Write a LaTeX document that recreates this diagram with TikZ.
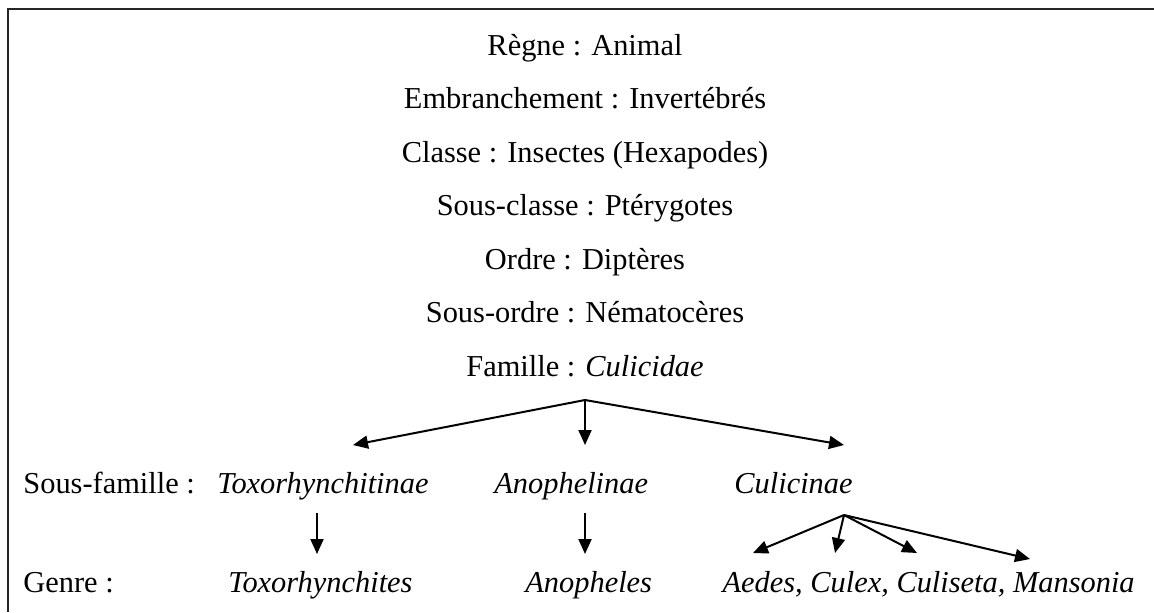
\documentclass[tikz,border=0pt]{standalone}
\usepackage{fontspec}
\setmainfont{Liberation Serif}
\usetikzlibrary{arrows.meta}
\begin{document}
\begin{tikzpicture}[x=0.5pt,y=-0.5pt,
  lbl/.style={anchor=base, inner sep=0pt, font=\fontsize{15.2pt}{18pt}\selectfont},
  lblw/.style={lbl, anchor=base west},
  arr/.style={line width=1pt, -{Triangle[length=7.5pt,width=6.5pt]}},
  frame/.style={line width=1pt, black!85}
]
\useasboundingbox (0,0) rectangle (1154,612);
\draw[frame] (8,612) -- (8,9) -- (1154,9);

\node[lbl] (regne) at (585,55) {Règne : Animal};
\node[lbl] (embr) at (585,108.5) {Embranchement : Invertébrés};
\node[lbl] (classe) at (585,162) {Classe : Insectes (Hexapodes)};
\node[lbl] (sclasse) at (585,215.5) {Sous-classe : Ptérygotes};
\node[lbl] (ordre) at (585,269) {Ordre : Diptères};
\node[lbl] (sordre) at (585,322.5) {Sous-ordre : Nématocères};
\node[lbl] (famille) at (585,376) {Famille : \textit{Culicidae}};

\node[lblw] (sfl) at (23,493) {Sous-famille :};
\node[lblw] (toxo) at (217,493) {\textit{Toxorhynchitinae}};
\node[lblw] (anoph) at (494,493) {\textit{Anophelinae}};
\node[lblw] (culi) at (734,493) {\textit{Culicinae}};

\node[lblw] (genre) at (23,592) {Genre :};
\node[lblw] (toxog) at (228,592) {\textit{Toxorhynchites}};
\node[lblw] (anophg) at (525,592) {\textit{Anopheles}};
\node[lbl, anchor=base east] (aedes) at (1135,592) {\textit{Aedes, Culex, Culiseta, Mansonia}};

% connector ends
\coordinate (fa) at (585,400);
\coordinate (t1) at (353,445);
\coordinate (t2) at (585,445);
\coordinate (t3) at (844,445);
\coordinate (ta) at (317,513);
\coordinate (tb) at (317,554);
\coordinate (aa) at (585,513);
\coordinate (ab) at (585,554);
\coordinate (ca) at (844,515);
\coordinate (c1) at (753,553);
\coordinate (c2) at (835,553);
\coordinate (c3) at (917,553);
\coordinate (c4) at (1030,559);

\draw[arr] (fa) -- (t1);
\draw[arr] (fa) -- (t2);
\draw[arr] (fa) -- (t3);
\draw[arr] (ta) -- (tb);
\draw[arr] (aa) -- (ab);
\draw[arr] (ca) -- (c1);
\draw[arr] (ca) -- (c2);
\draw[arr] (ca) -- (c3);
\draw[arr] (ca) -- (c4);
\end{tikzpicture}
\end{document}
